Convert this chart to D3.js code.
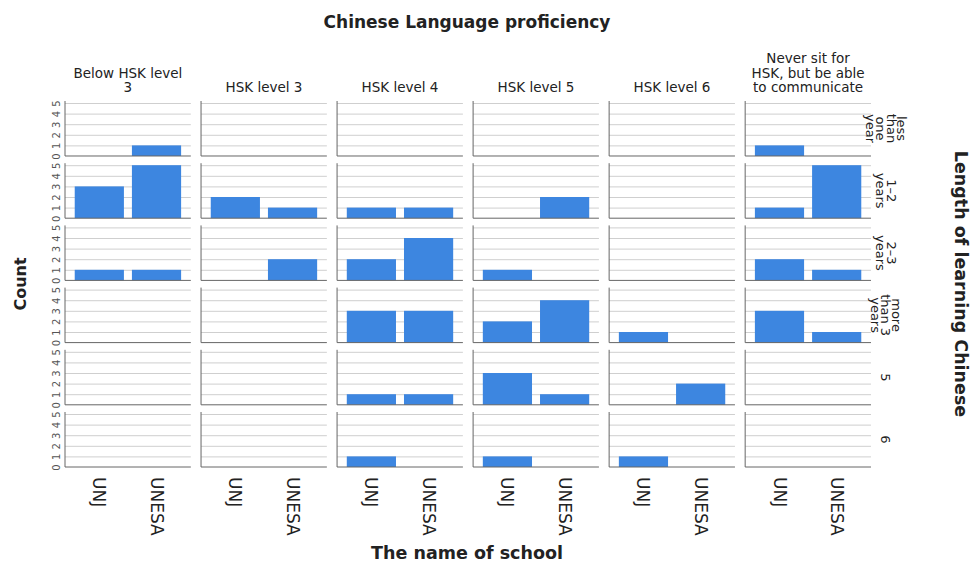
<!DOCTYPE html>
<html>
<head>
<meta charset="utf-8">
<script src="https://cdn.jsdelivr.net/npm/d3@7"></script>
<style>
  body { margin: 0; background: #fff; }
  text { font-family: "DejaVu Sans", sans-serif; fill: #222; }
</style>
</head>
<body>
<div id="chart"></div>
<script>
// column facets (Chinese Language proficiency)
const levels = ['Below HSK level 3', 'HSK level 3', 'HSK level 4', 'HSK level 5', 'HSK level 6', 'Never sit for HSK'];
const levelLabels = [
  ['Below HSK level', '3'],
  ['HSK level 3'],
  ['HSK level 4'],
  ['HSK level 5'],
  ['HSK level 6'],
  ['Never sit for', 'HSK, but be able', 'to communicate']
];
// row facets (Length of learning Chinese)
const lengths = ['less than one year', '1-2 years', '2-3 years', 'more than 3 years', '5', '6'];
const lengthLabels = [
  ['less', 'than', 'one', 'year'],
  ['1–2', 'years'],
  ['2–3', 'years'],
  ['more', 'than 3', 'years'],
  ['5'],
  ['6']
];
const schools = ['UNJ', 'UNESA'];
const yTicks = [0, 1, 2, 3, 4, 5];

// counts, one row per length, one column per level
const countsUNJ = [
  [0, 0, 0, 0, 0, 1],
  [3, 2, 1, 0, 0, 1],
  [1, 0, 2, 1, 0, 2],
  [0, 0, 3, 2, 1, 3],
  [0, 0, 1, 3, 0, 0],
  [0, 0, 1, 1, 1, 0]
];
const countsUNESA = [
  [1, 0, 0, 0, 0, 0],
  [5, 1, 1, 2, 0, 5],
  [1, 2, 4, 0, 0, 1],
  [0, 0, 3, 4, 0, 1],
  [0, 0, 1, 1, 2, 0],
  [0, 0, 0, 0, 0, 0]
];

const width = 976;
const height = 569;
const barColor = '#3d86e0';

const svg = d3.select('#chart')
              .append('svg')
              .attr('width', width)
              .attr('height', height);

const colScale = d3.scaleBand()
                   .domain(levels)
                   .range([65, 871])
                   .paddingInner(0.075);

const rowScale = d3.scaleBand()
                   .domain(lengths)
                   .range([101, 467])
                   .paddingInner(0.116);

const panelW = colScale.bandwidth();
const panelH = rowScale.bandwidth();

const xScale = d3.scaleBand()
                 .domain(schools)
                 .range([0, panelW])
                 .paddingInner(0.14)
                 .paddingOuter(0.17);

const yScale = d3.scaleLinear()
                 .domain([0, 5])
                 .range([panelH, 2]);

lengths.forEach((len, r) => {
  levels.forEach((lev, c) => {
    const g = svg.append('g')
                 .attr('transform', 'translate(' + colScale(lev) + ',' + rowScale(len) + ')');

    // gridlines
    g.append('g')
     .call(d3.axisLeft(yScale).tickValues(yTicks.slice(1)).tickSize(-panelW).tickFormat(''))
     .call(s => s.select('.domain').remove())
     .call(s => s.selectAll('line').attr('stroke', '#cfcfcf'));

    // bars
    const vals = [countsUNJ[r][c], countsUNESA[r][c]];
    g.selectAll('rect')
     .data(vals)
     .enter()
     .append('rect')
     .attr('x', (d, i) => xScale(schools[i]))
     .attr('y', d => yScale(d))
     .attr('width', xScale.bandwidth())
     .attr('height', d => yScale(0) - yScale(d))
     .attr('fill', barColor);

    // frame: left and bottom
    g.append('line')
     .attr('x1', 0).attr('x2', 0)
     .attr('y1', 0).attr('y2', panelH)
     .attr('stroke', '#666');
    g.append('line')
     .attr('x1', 0).attr('x2', panelW)
     .attr('y1', panelH).attr('y2', panelH)
     .attr('stroke', '#666');

    // y tick labels only in first column
    if (c === 0) {
      const ax = g.append('g')
                  .call(d3.axisLeft(yScale).tickValues(yTicks).tickSize(0).tickFormat(d3.format('d')));
      ax.select('.domain').remove();
      ax.selectAll('text')
        .attr('x', 0)
        .attr('dy', '0.35em')
        .attr('text-anchor', 'middle')
        .attr('transform', 'translate(-9,0) rotate(-90)')
        .style('font-size', '10px')
        .style('fill', '#555')
        .style('font-family', '"DejaVu Sans", sans-serif');
    }

    // x tick labels only in last row
    if (r === lengths.length - 1) {
      g.selectAll('.xlab')
       .data(schools)
       .enter()
       .append('text')
       .attr('class', 'xlab')
       .attr('transform', d => 'translate(' + (xScale(d) + xScale.bandwidth() / 2) + ',' + (panelH + 10) + ') rotate(90)')
       .attr('dy', '0.35em')
       .attr('text-anchor', 'start')
       .style('font-size', '17px')
       .text(d => d);
    }
  });
});

// column headers
const headLH = 14.5;
levelLabels.forEach((lines, c) => {
  const cx = colScale(levels[c]) + panelW / 2;
  const t = svg.append('text')
               .attr('x', cx)
               .attr('y', 92 - (lines.length - 1) * headLH)
               .attr('text-anchor', 'middle')
               .style('font-size', '13.5px');
  lines.forEach((ln, i) => {
    t.append('tspan')
     .attr('x', cx)
     .attr('dy', i === 0 ? 0 : headLH)
     .text(ln);
  });
});

// row labels on the right
lengthLabels.forEach((lines, r) => {
  const cy = rowScale(lengths[r]) + panelH / 2;
  const lh = 10.5;
  const t = svg.append('text')
               .attr('transform', 'translate(886,' + cy + ') rotate(90)')
               .attr('text-anchor', 'middle')
               .style('font-size', '13px');
  lines.forEach((ln, i) => {
    t.append('tspan')
     .attr('x', 0)
     .attr('y', (i - (lines.length - 1) / 2) * lh)
     .attr('dy', '0.35em')
     .text(ln);
  });
});

// titles
svg.append('text')
   .attr('x', 467)
   .attr('y', 28)
   .attr('text-anchor', 'middle')
   .style('font-size', '17px')
   .style('font-weight', 'bold')
   .text('Chinese Language proficiency');

svg.append('text')
   .attr('x', 467)
   .attr('y', 559)
   .attr('text-anchor', 'middle')
   .style('font-size', '17.5px')
   .style('font-weight', 'bold')
   .text('The name of school');

svg.append('text')
   .attr('transform', 'translate(20,284) rotate(-90)')
   .attr('text-anchor', 'middle')
   .attr('dy', '0.35em')
   .style('font-size', '16px')
   .style('font-weight', 'bold')
   .text('Count');

svg.append('text')
   .attr('transform', 'translate(961,284) rotate(90)')
   .attr('text-anchor', 'middle')
   .attr('dy', '0.35em')
   .style('font-size', '17.5px')
   .style('font-weight', 'bold')
   .text('Length of learning Chinese');
</script>
</body>
</html>
